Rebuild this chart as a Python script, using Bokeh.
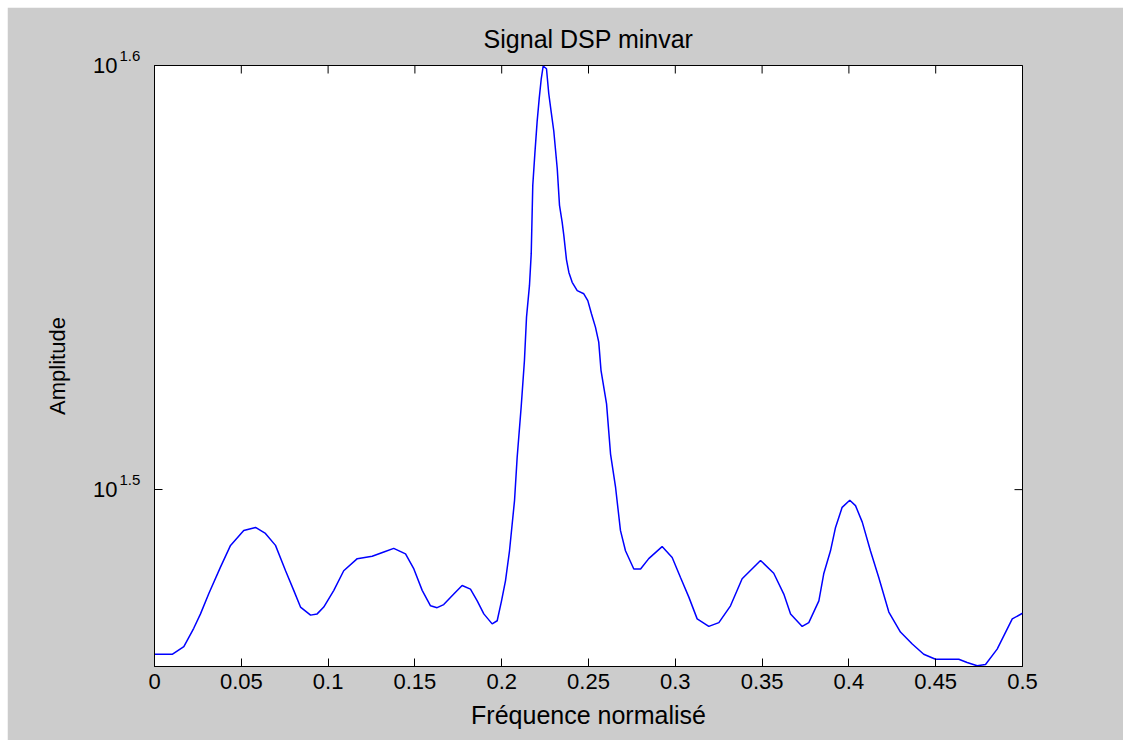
import math
from bokeh.plotting import figure
from bokeh.models import FixedTicker, Label, Range1d
from bokeh.embed import file_html
from bokeh.resources import INLINE

# ---------------- data ----------------
freq = [0.0, 0.0104, 0.0169, 0.0226, 0.0265, 0.0313, 0.0380, 0.0438, 0.0514, 0.0582,
        0.0639, 0.0697, 0.0755, 0.0802, 0.0841, 0.0899, 0.0937, 0.0975, 0.1033, 0.1090,
        0.1168, 0.1254, 0.1321, 0.1378, 0.1446, 0.1494, 0.1542, 0.1590, 0.1628, 0.1666,
        0.1724, 0.1772, 0.1820, 0.1859, 0.1897, 0.1945, 0.1974, 0.1999, 0.2022, 0.2045,
        0.2074, 0.2089, 0.2112, 0.2131, 0.2143, 0.2160, 0.2170, 0.2179, 0.2191, 0.2204,
        0.2216, 0.2228, 0.2239, 0.2258, 0.2271, 0.2285, 0.2300, 0.2320, 0.2333, 0.2348,
        0.2358, 0.2373, 0.2387, 0.2406, 0.2435, 0.2473, 0.2496, 0.2517, 0.2540, 0.2559,
        0.2572, 0.2604, 0.2627, 0.2656, 0.2684, 0.2713, 0.2761, 0.2800, 0.2847, 0.2924,
        0.2982, 0.3030, 0.3078, 0.3126, 0.3193, 0.3251, 0.3318, 0.3385, 0.3491, 0.3567,
        0.3625, 0.3664, 0.3731, 0.3769, 0.3827, 0.3855, 0.3894, 0.3923, 0.3961, 0.4005,
        0.4038, 0.4077, 0.4124, 0.4172, 0.4230, 0.4297, 0.4365, 0.4431, 0.4499, 0.4633,
        0.4681, 0.4739, 0.4787, 0.4854, 0.4941, 0.5]

amplitude = [28.92, 28.92, 29.04, 29.33, 29.56, 29.89, 30.32, 30.68, 30.93, 30.98,
             30.88, 30.68, 30.26, 29.94, 29.67, 29.54, 29.56, 29.67, 29.94, 30.26,
             30.46, 30.50, 30.57, 30.63, 30.54, 30.29, 29.94, 29.69, 29.66, 29.71,
             29.88, 30.02, 29.96, 29.77, 29.56, 29.40, 29.45, 29.77, 30.10, 30.59,
             31.44, 32.18, 33.07, 33.92, 34.73, 35.33, 35.94, 37.30, 37.95, 38.61,
             39.10, 39.53, 39.80, 39.74, 39.21, 38.82, 38.42, 37.64, 36.90, 36.57,
             36.30, 35.83, 35.58, 35.39, 35.23, 35.17, 35.04, 34.79, 34.54, 34.26,
             33.74, 33.13, 32.24, 31.66, 30.93, 30.59, 30.29, 30.29, 30.46, 30.66,
             30.48, 30.15, 29.83, 29.48, 29.36, 29.42, 29.69, 30.13, 30.43, 30.22,
             29.88, 29.56, 29.36, 29.42, 29.77, 30.21, 30.59, 30.98, 31.32, 31.44,
             31.35, 31.07, 30.59, 30.15, 29.59, 29.27, 29.08, 28.92, 28.84, 28.84,
             28.79, 28.74, 28.76, 29.00, 29.48, 29.57]

x_ticks = [0.0, 0.05, 0.1, 0.15, 0.2, 0.25, 0.3, 0.35, 0.4, 0.45, 0.5]
x_tick_labels = ["0", "0.05", "0.1", "0.15", "0.2", "0.25", "0.3", "0.35", "0.4", "0.45", "0.5"]
y_tick_exponents = [1.5, 1.6]
y_tick_base = "10"
y_tick_exp_labels = ["1.5", "1.6"]
y_range_exponents = [1.4583, 1.6]
x_limits = [0.0, 0.5]

title_text = "Signal DSP minvar"
x_label = "Fréquence normalisé"
y_label = "Amplitude"

# ---------------- figure ----------------
FONT = "Liberation Sans"
GRAY = "#cccccc"

y_tick_values = [10 ** e for e in y_tick_exponents]
y_lo, y_hi = 10 ** y_range_exponents[0], 10 ** y_range_exponents[1]

p = figure(width=1116, height=733, margin=(7, 0, 0, 7),
           y_axis_type="log",
           x_range=Range1d(x_limits[0], x_limits[1]),
           y_range=Range1d(y_lo, y_hi),
           output_backend="svg", toolbar_location=None,
           min_border_left=147, min_border_right=101,
           min_border_top=58, min_border_bottom=74,
           border_fill_color=GRAY, background_fill_color="white")

p.outline_line_color = "black"
p.outline_line_width = 1
p.grid.visible = False

p.title.text = title_text
p.title.align = "center"
p.title.text_font = FONT
p.title.text_font_size = "25px"
p.title.text_font_style = "normal"
p.title.text_color = "black"
p.title.standoff = 26

# bottom axis
xa = p.xaxis[0]
xa.ticker = FixedTicker(ticks=x_ticks, minor_ticks=[])
xa.major_label_overrides = {t: s for t, s in zip(x_ticks, x_tick_labels)}
xa.major_tick_in = 8
xa.major_tick_out = 0
xa.minor_tick_in = 0
xa.minor_tick_out = 0
xa.major_label_standoff = 7
xa.major_label_text_font = FONT
xa.major_label_text_font_size = "22px"
xa.major_label_text_color = "black"
xa.axis_label = x_label
xa.axis_label_text_font = FONT
xa.axis_label_text_font_size = "25px"
xa.axis_label_text_font_style = "normal"
xa.axis_label_text_color = "black"
xa.axis_label_standoff = 9
xa.axis_line_color = "black"
xa.major_tick_line_color = "black"

# left axis: base "10" as tick label, exponent added as a Label
ya = p.yaxis[0]
ya.ticker = FixedTicker(ticks=y_tick_values, minor_ticks=[])
ya.major_label_overrides = {v: y_tick_base for v in y_tick_values}
ya.major_label_text_font = FONT
ya.major_label_text_font_size = "22px"
ya.major_label_text_color = "black"
ya.major_label_standoff = 37
ya.major_tick_in = 8
ya.major_tick_out = 0
ya.minor_tick_in = 0
ya.minor_tick_out = 0
ya.axis_label = y_label
ya.axis_label_text_font = FONT
ya.axis_label_text_font_size = "22px"
ya.axis_label_text_font_style = "normal"
ya.axis_label_text_color = "black"
ya.axis_label_standoff = 20
ya.axis_line_color = "black"
ya.major_tick_line_color = "black"

# exponent labels live in the (roomy) right panel so they are not clipped
for yv, lab in zip(y_tick_values, y_tick_exp_labels):
    p.add_layout(Label(x=x_limits[0], y=yv, text=lab,
                       x_offset=-35, y_offset=10,
                       text_align="left", text_baseline="alphabetic",
                       text_font=FONT, text_font_size="15px", text_color="black"),
                 "right")

# mirror ticks on top and right edges (clipped to the frame, 8 px inside)
p.scatter(x_ticks, [y_hi] * len(x_ticks), marker="dash", size=16,
          angle=math.pi / 2, line_color="black", line_width=1)
p.scatter([x_limits[1]] * len(y_tick_values), y_tick_values, marker="dash", size=16,
          line_color="black", line_width=1)

p.line(freq, amplitude, line_color="#0000ff", line_width=1.5)

open("out.html", "w").write(file_html(p, INLINE))
